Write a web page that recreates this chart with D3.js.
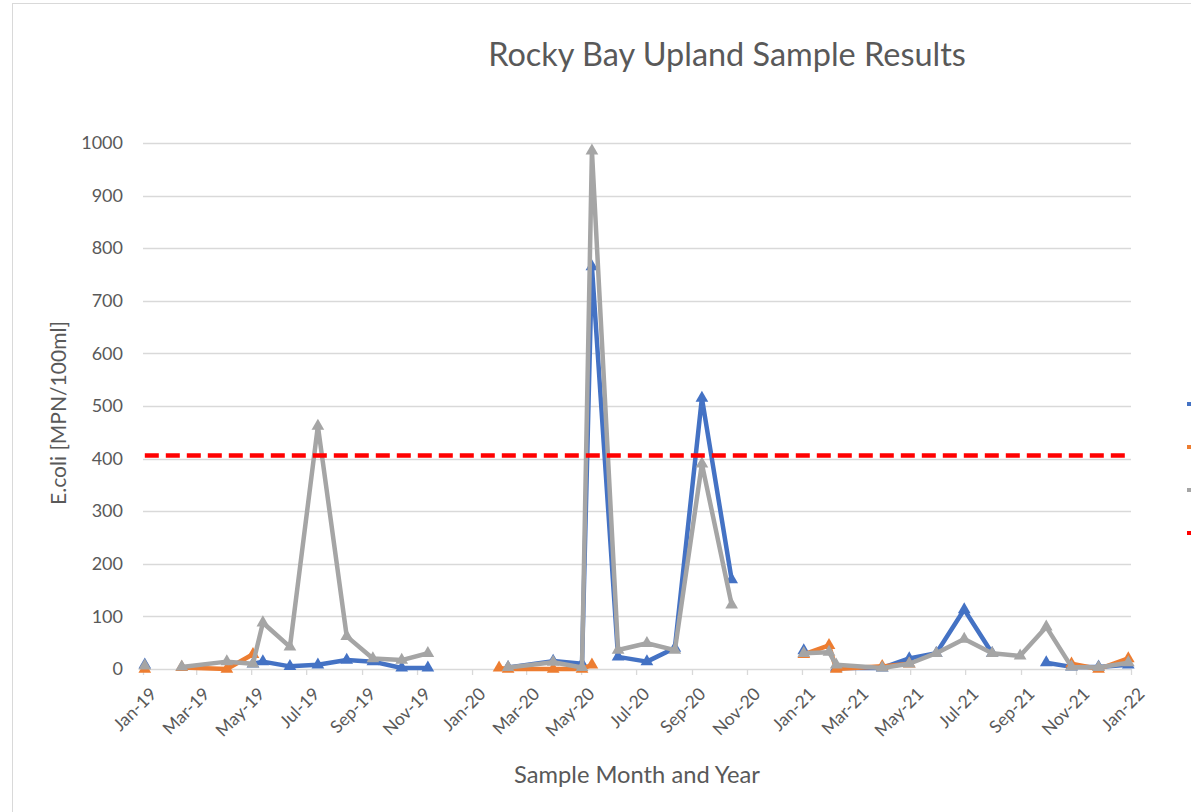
<!DOCTYPE html>
<html><head><meta charset="utf-8">
<script src="https://cdn.jsdelivr.net/npm/d3@7"></script>
<style>html,body{margin:0;padding:0;background:#fff;overflow:hidden}</style>
</head><body>
<svg id="chart" width="1191" height="812"></svg>
<script>
// ---- data ----
const sampleDates = [
 "2019-01-03","2019-01-20","2019-02-13","2019-04-04","2019-05-03","2019-05-14","2019-06-13","2019-07-14","2019-08-15","2019-09-13","2019-10-15","2019-11-13","2019-12-15",
 "2020-01-31","2020-02-10","2020-03-31","2020-05-02","2020-05-13","2020-06-11","2020-07-13","2020-08-13","2020-09-12","2020-10-15","2020-12-01",
 "2021-01-03","2021-01-31","2021-02-08","2021-03-31","2021-04-30","2021-05-30","2021-06-30","2021-07-31","2021-08-31","2021-09-29","2021-10-27","2021-11-26","2021-12-29"];
const seriesBlue = [
 8,null,null,null,10,14,5,8,17,14,2,2,null,
 null,3,15,10,765,23,14,40,515,170,null,
 35,null,2,2,20,30,113,30,null,12,4,4,8];
const seriesOrange = [
 0,null,3,0,28,null,null,null,null,null,null,null,null,
 2,0,0,0,8,null,null,null,null,null,null,
 28,45,0,5,10,null,null,null,null,null,10,0,20];
const seriesGray = [
 6,null,4,14,10,88,42,462,62,20,17,30,null,
 null,3,13,3,985,36,49,36,390,122,null,
 30,32,8,2,10,30,57,30,25,80,4,3,12];
const thresholdValue = 406;
const yTicks = [0,100,200,300,400,500,600,700,800,900,1000];
const xDomain = ["2019-01-01","2022-01-01"];
const titleText = "Rocky Bay Upland Sample Results";
const xTitle = "Sample Month and Year";
const yTitle = "E.coli [MPN/100ml]";
const seriesColors = ["#4472C4","#ED7D31","#A5A5A5","#FF0000"];

// ---- chart ----
const svg = d3.select("#chart");
const font = "Lato, 'Open Sans', sans-serif";
const textColor = "#595959";
const parse = d3.timeParse("%Y-%m-%d");
const dates = sampleDates.map(parse);

const x = d3.scaleTime().domain(xDomain.map(parse)).range([143, 1131]);
const y = d3.scaleLinear().domain([0, 1000]).range([669, 143]);

svg.append("rect").attr("x",12.5).attr("y",3.5).attr("width",1300).attr("height",900)
  .attr("fill","none").attr("stroke","#d9d9d9");

// gridlines
svg.append("g").selectAll("line").data(yTicks).join("line")
  .attr("x1", x.range()[0]).attr("x2", x.range()[1])
  .attr("y1", d => Math.round(y(d))+0.5).attr("y2", d => Math.round(y(d))+0.5)
  .attr("stroke", "#d9d9d9").attr("stroke-width", 1.3);

// y axis labels
const yAxis = d3.axisLeft(y).tickValues(yTicks).tickFormat(d3.format("d")).tickSize(0).tickPadding(20);
const gy = svg.append("g").attr("transform", `translate(${x.range()[0]},0)`).call(yAxis);
gy.select(".domain").remove();
gy.selectAll("text").attr("font-family", font).attr("font-size", 18).attr("fill", textColor);

// x axis
const xTickVals = d3.timeMonth.every(2).range(parse(xDomain[0]), d3.timeDay.offset(parse(xDomain[1]),1));
const xAxis = d3.axisBottom(x).tickValues(xTickVals).tickFormat(d3.timeFormat("%b-%y")).tickSize(6).tickPadding(4);
const gx = svg.append("g").attr("transform", `translate(0,${y(0)})`).call(xAxis);
gx.select(".domain").remove();
gx.selectAll(".tick line").attr("stroke", "#d9d9d9").attr("stroke-width", 1.3);
gx.selectAll("text").attr("font-family", font).attr("font-size", 17.5).attr("fill", textColor)
  .attr("text-anchor", "end").attr("dy", 0)
  .attr("transform", "translate(7,19) rotate(-45)");

// series
const line = d3.line().defined(d => d.v != null).x(d => x(d.t)).y(d => y(d.v));
const tri = d3.symbol().type(d3.symbolTriangle).size(70);
[seriesBlue, seriesOrange, seriesGray].forEach((vals, i) => {
  const pts = vals.map((v, j) => ({t: dates[j], v}));
  const g = svg.append("g");
  g.append("path").datum(pts).attr("d", line).attr("fill", "none")
    .attr("stroke", seriesColors[i]).attr("stroke-width", 4.5).attr("stroke-linejoin", "round");
  g.selectAll("path.m").data(pts.filter(d => d.v != null)).join("path").attr("class","m")
    .attr("d", tri).attr("transform", d => `translate(${x(d.t)},${y(d.v)})`)
    .attr("fill", seriesColors[i]);
});

// threshold
svg.append("path").datum([dates[0], dates[dates.length-1]])
  .attr("d", d3.line().x(d => x(d)).y(() => y(thresholdValue)))
  .attr("stroke", seriesColors[3]).attr("stroke-width", 4.5).attr("stroke-dasharray", "14,7")
  .attr("fill","none");

// legend (cut at right edge)
svg.append("g").selectAll("line").data(seriesColors).join("line")
  .attr("x1", 1187).attr("x2", 1215)
  .attr("y1", (d,i) => 404 + i*43).attr("y2", (d,i) => 404 + i*43)
  .attr("stroke", d => d).attr("stroke-width", 4)
  .attr("stroke-dasharray", (d,i) => i === 3 ? "6,4" : null);

// titles
function fit(sel, w) {
  const base = 20; sel.attr("font-size", base);
  const len = sel.node().getComputedTextLength();
  sel.attr("font-size", base * w / len);
}
const t = svg.append("text").attr("x", 727).attr("y", 66).attr("text-anchor","middle")
  .attr("font-family", font).attr("fill", textColor).text(titleText);
fit(t, 478);
const xt = svg.append("text").attr("x", 637).attr("y", 783).attr("text-anchor","middle")
  .attr("font-family", font).attr("fill", textColor).text(xTitle);
fit(xt, 246);
const yt = svg.append("text").attr("transform", "translate(66,413) rotate(-90)").attr("text-anchor","middle")
  .attr("font-family", font).attr("fill", textColor).text(yTitle);
fit(yt, 184);
</script>
</body></html>
